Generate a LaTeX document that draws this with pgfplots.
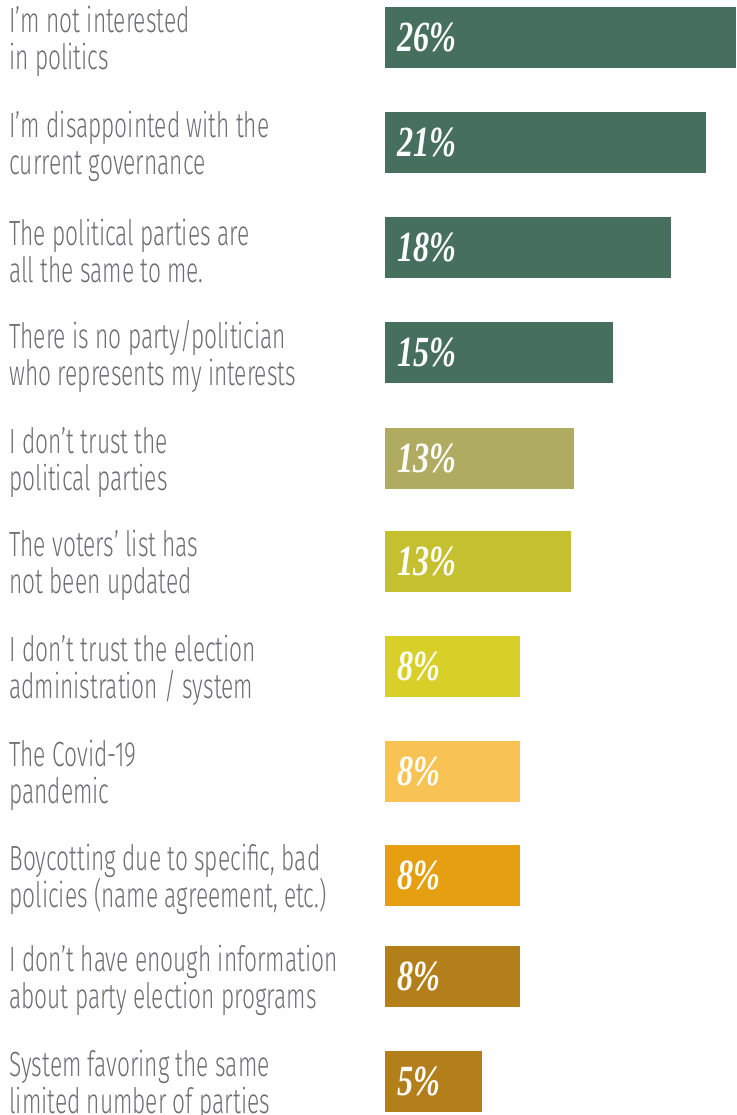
\documentclass[border=0pt]{standalone}
\usepackage{pgfplots}
\pgfplotsset{compat=1.18}
\usepackage{fontspec}
\newfontfamily\labfont{Fira Sans Light}[FakeStretch=0.65]
\newfontfamily\pctfont{Liberation Serif}[FakeStretch=0.75]
\definecolor{cA}{HTML}{476F5E}
\definecolor{cB}{HTML}{AFAB60}
\definecolor{cC}{HTML}{C5C030}
\definecolor{cD}{HTML}{D8CF28}
\definecolor{cE}{HTML}{F9C254}
\definecolor{cF}{HTML}{E79F12}
\definecolor{cG}{HTML}{B37F1B}
\definecolor{labgray}{HTML}{6D6E72}
\pgfplotsset{mybar/.style={xbar, bar width=61, bar shift=0pt, draw=none, fill=#1}}
\begin{document}
\begin{tikzpicture}
\begin{axis}[
  width=368pt, height=557.5pt, scale only axis,
  xmin=-28.52, xmax=26, ymin=0, ymax=1115, y dir=reverse,
  axis line style={draw=none}, tick style={draw=none}, xtick=\empty,
  ytick={37.5,142.5,247.5,352.5,458.5,561,666,771,875,976,1081},
  yticklabels={
    {I’m not interested\\in politics},
    {I’m disappointed with the\\current governance},
    {The political parties are\\all the same to me.},
    {There is no party/politician\\who represents my interests},
    {I don’t trust the\\political parties},
    {The voters’ list has\\not been updated},
    {I don’t trust the election\\administration / system},
    {The Covid-19\\pandemic},
    {Boycotting due to specific, bad\\policies (name agreement, etc.)},
    {I don’t have enough information\\about party election programs},
    {System favoring the same\\limited number of parties}},
  yticklabel style={anchor=west, align=left, inner sep=0pt, xshift=4.5pt, yshift=-2pt,
    font=\labfont\fontsize{17.5}{18.5}\selectfont, text=labgray},
  clip=false,
]
\coordinate (bbA) at (rel axis cs:0,0);
\coordinate (bbB) at (rel axis cs:1,1);
\addplot[mybar=cA] coordinates {(26.0,37.5)};
\addplot[mybar=cA] coordinates {(23.78,142.5)};
\addplot[mybar=cA] coordinates {(21.19,247.5)};
\addplot[mybar=cA] coordinates {(16.89,352.5)};
\addplot[mybar=cB] coordinates {(14.0,458.5)};
\addplot[mybar=cC] coordinates {(13.78,561)};
\addplot[mybar=cD] coordinates {(10.0,666)};
\addplot[mybar=cE] coordinates {(10.0,771)};
\addplot[mybar=cF] coordinates {(10.0,875)};
\addplot[mybar=cG] coordinates {(10.0,976)};
\addplot[mybar=cG] coordinates {(7.19,1081)};
\addplot[only marks, mark=none, point meta=explicit symbolic,
  nodes near coords={\pgfplotspointmeta\%},
  nodes near coords style={anchor=west, inner sep=0pt, xshift=6pt, text=white,
    font=\pctfont\bfseries\itshape\fontsize{21.5}{21.5}\selectfont}]
  table[meta=p] {
x y p
0 37.5 26
0 142.5 21
0 247.5 18
0 352.5 15
0 458.5 13
0 561 13
0 666 8
0 771 8
0 875 8
0 976 8
0 1081 5
};
\end{axis}
\pgfresetboundingbox
\path (bbA) rectangle (bbB);
\end{tikzpicture}
\end{document}
